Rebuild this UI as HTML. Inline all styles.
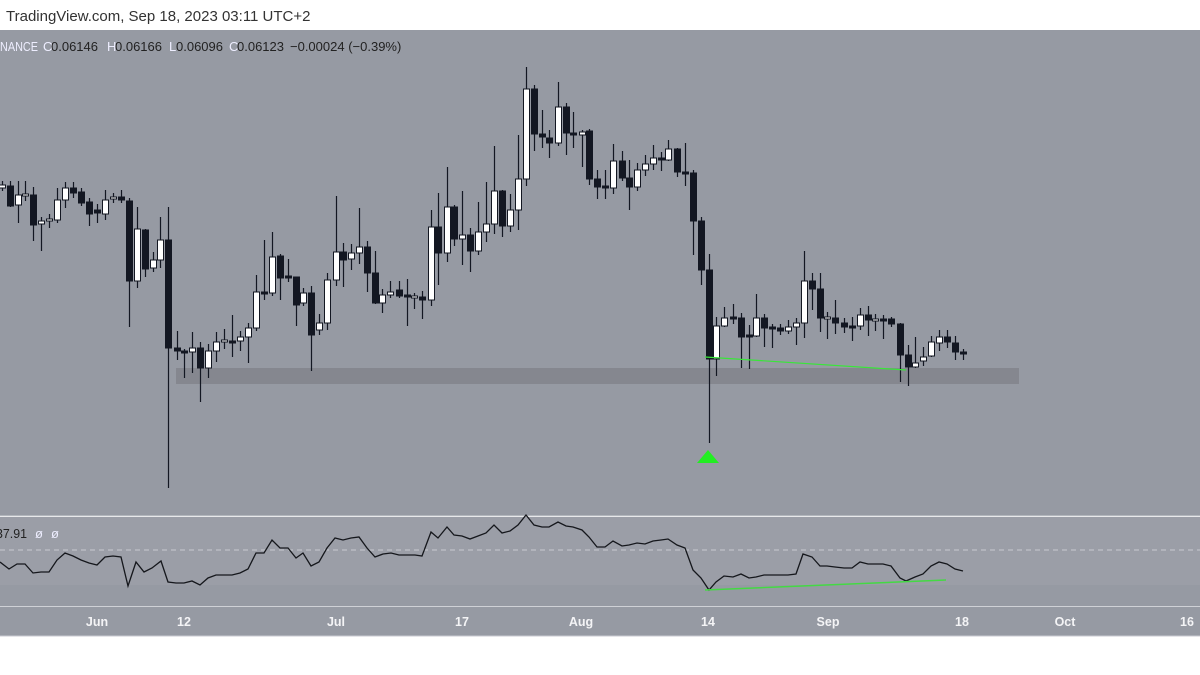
<!DOCTYPE html>
<html><head><meta charset="utf-8"><style>
html,body{margin:0;padding:0;width:1200px;height:675px;overflow:hidden;background:#fff;font-family:"Liberation Sans",sans-serif}
</style></head><body>
<svg id="s" width="1200" height="675" xmlns="http://www.w3.org/2000/svg" style="position:absolute;left:0;top:0">
<rect x="0" y="0" width="1200" height="30" fill="#fff"/>
<rect x="0" y="30" width="1200" height="486" fill="#969aa3"/>
<rect x="0" y="517" width="1200" height="68" fill="#9b9ea7"/>
<rect x="0" y="585" width="1200" height="21" fill="#969aa3"/>
<rect x="0" y="607" width="1200" height="29" fill="#969aa3"/>
<line x1="0" y1="516" x2="1200" y2="516" stroke="#cfd1d6" stroke-width="1"/>
<line x1="0" y1="606.5" x2="1200" y2="606.5" stroke="#cfd1d6" stroke-width="1"/>
<line x1="0" y1="636" x2="1200" y2="636" stroke="#c8cad0" stroke-width="1"/>
<line x1="0" y1="550" x2="1200" y2="550" stroke="#c9cbd0" stroke-width="1" stroke-dasharray="5,4"/>
<rect x="176" y="368" width="843" height="16" fill="#85878f"/>
<g id="c"></g>
<line x1="705" y1="357" x2="906" y2="370" stroke="#39e639" stroke-width="1.2"/>
<polygon points="708,450 697,463 719,463" fill="#22ee22"/>
<polyline id="rsi" fill="none" stroke="#15171c" stroke-width="1.3"/>
<line x1="705" y1="590" x2="946" y2="580" stroke="#44d944" stroke-width="1.5"/>
<text x="6" y="21" font-size="15" fill="#333">TradingView.com, Sep 18, 2023 03:11 UTC+2</text>
<g font-size="13" fill="#222">
<text x="0" y="51" fill="#eef" textLength="38" lengthAdjust="spacingAndGlyphs">NANCE</text>
<text x="43" y="51" fill="#eef">O</text><text x="51" y="51">0.06146</text>
<text x="107" y="51" fill="#eef">H</text><text x="115" y="51">0.06166</text>
<text x="169" y="51" fill="#eef">L</text><text x="176" y="51">0.06096</text>
<text x="229" y="51" fill="#eef">C</text><text x="237" y="51">0.06123</text>
<text x="290" y="51">−0.00024 (−0.39%)</text>
</g>
<g font-size="13">
<text x="-4" y="538" fill="#222" textLength="31" lengthAdjust="spacingAndGlyphs">37.91</text>
<text x="35" y="538" fill="#eef">ø</text><text x="51" y="538" fill="#eef">ø</text>
</g>
<g font-size="12.5" fill="#f4f4f6" text-anchor="middle" font-weight="bold">
<text x="97" y="626">Jun</text><text x="184" y="626">12</text><text x="336" y="626">Jul</text><text x="462" y="626">17</text><text x="581" y="626">Aug</text><text x="708" y="626">14</text><text x="828" y="626">Sep</text><text x="962" y="626">18</text><text x="1065" y="626">Oct</text><text x="1187" y="626">16</text>
</g>
</svg>
<script>
var C=[
[2,181,185,188,191,'w'],[10,181,186,206,207,'b'],[18,181,195,205,223,'w'],[25,181,194,196,201,'w'],[33,187,195,225,241,'b'],[41,217,221,224,251,'w'],[49,214,219,221,228,'w'],[57,188,200,220,223,'w'],[65,182,188,200,208,'w'],[73,182,188,193,198,'b'],[81,188,192,203,206,'b'],[89,198,202,214,226,'b'],[97,204,210,213,223,'b'],[105,190,200,214,220,'w'],[113,193,197,199,203,'w'],[121,190,197,200,203,'b'],
[129,198,201,281,327,'b'],[137,207,229,281,288,'w'],[145,229,230,269,277,'b'],[153,252,260,268,272,'w'],[160,217,240,260,268,'w'],[168,207,240,348,488,'b'],[177,331,348,351,360,'b'],[184,349,351,353,378,'b'],[192,332,348,352,373,'w'],[200,342,348,368,402,'b'],[208,344,351,368,378,'w'],[216,332,342,351,362,'w'],[224,329,340,342,349,'w'],[232,315,341,343,357,'b'],[240,331,337,341,351,'w'],[248,323,328,337,363,'w'],[256,275,292,328,331,'w'],[264,240,292,294,300,'b'],[272,232,257,293,296,'w'],[280,254,256,278,300,'b'],[288,259,276,278,282,'b'],[296,277,277,305,326,'b'],[303,288,293,303,306,'w'],[311,286,293,335,371,'b'],[319,314,323,330,335,'w'],[327,273,280,323,330,'w'],[336,196,252,280,286,'w'],[343,243,252,260,287,'b'],[351,244,253,259,270,'w'],[359,208,247,253,264,'w'],[367,241,247,273,292,'b'],[375,251,273,303,304,'b'],[382,289,295,303,313,'w'],[390,281,292,295,298,'w'],[399,281,290,296,298,'b'],[407,279,295,297,326,'b'],[414,293,296,298,309,'w'],[422,291,297,300,319,'b'],[431,210,227,300,306,'w'],[438,193,227,253,285,'b'],[447,167,207,253,262,'w'],[454,205,207,239,246,'b'],[462,191,235,239,265,'w'],[470,228,235,251,272,'b'],[478,202,232,251,255,'w'],[486,182,224,232,242,'w'],[494,146,191,224,234,'w'],[502,190,191,226,237,'b'],[510,194,210,226,232,'w'],[518,135,179,210,230,'w'],[526,67,89,179,186,'w'],[534,85,89,134,151,'b'],[542,110,134,137,148,'b'],[549,130,138,143,158,'b'],[558,82,107,143,146,'w'],[566,103,107,133,155,'b'],[573,112,133,135,148,'b'],[582,130,132,135,167,'w'],[589,129,131,179,185,'b'],[597,170,179,187,199,'b'],[605,170,186,188,199,'b'],[613,144,161,188,194,'w'],[622,151,161,178,181,'b'],[629,160,178,187,210,'b'],[637,163,170,187,191,'w'],[645,155,164,170,176,'w'],[653,145,158,164,170,'w'],[661,152,158,160,171,'b'],[668,140,149,160,161,'w'],[677,148,149,172,177,'b'],[685,143,172,174,186,'b'],
[693,170,173,221,255,'b'],[701,217,221,270,285,'b'],[709,254,270,359,443,'b'],[716,317,326,359,376,'w'],[724,307,318,326,327,'w'],[733,304,317,319,324,'b'],[741,313,318,337,368,'b'],[749,325,335,337,369,'b'],[756,294,318,336,337,'w'],[764,314,318,328,347,'b'],[772,324,327,329,348,'b'],[780,324,328,331,335,'b'],[788,320,327,331,334,'w'],[796,318,323,327,345,'w'],[804,251,281,323,338,'w'],[812,273,281,289,310,'b'],[820,273,289,318,332,'b'],[827,312,317,319,339,'w'],[835,300,318,323,334,'b'],[844,318,323,327,333,'b'],[852,317,326,328,341,'b'],[860,308,315,326,330,'w'],[868,306,315,320,336,'b'],[875,314,319,321,331,'w'],[883,315,319,321,339,'b'],[891,317,319,324,327,'b'],[900,323,324,355,382,'b'],[908,345,355,367,386,'b'],[915,337,363,367,368,'w'],[923,347,357,361,366,'w'],[931,336,342,356,357,'w'],[939,330,337,343,351,'w'],[947,330,337,342,348,'b'],[955,336,343,352,360,'b'],[963,349,352,354,360,'b']];
var h='';
C.forEach(function(d){var x=d[0],col=d[5]=='w'?'#fff':'#131722';
h+='<line x1="'+(x+0.5)+'" y1="'+d[1]+'" x2="'+(x+0.5)+'" y2="'+d[4]+'" stroke="#131722" stroke-width="1.2"/>';
var t=d[2],b=d[3];if(b-t<2)b=t+2;
h+='<rect x="'+(x-2.5)+'" y="'+t+'" width="6" height="'+(b-t)+'" fill="'+col+'" stroke="#131722" stroke-width="1"/>';});
document.getElementById('c').innerHTML=h;
var R=[[0,562],[9,569],[17,564],[25,564],[33,573],[41,572],[49,572],[57,560],[65,553],[73,556],[81,560],[89,563],[97,565],[105,557],[113,556],[121,557],[128,586],[136,562],[144,572],[152,568],[161,561],[168,582],[176,583],[184,583],[192,581],[200,585],[208,578],[216,575],[224,575],[232,575],[240,573],[248,569],[256,553],[264,553],[272,540],[280,548],[288,548],[296,558],[303,553],[311,566],[319,562],[327,548],[335,538],[343,540],[351,538],[359,537],[367,548],[375,557],[383,554],[391,553],[399,555],[407,555],[415,555],[422,556],[431,532],[438,538],[447,527],[454,535],[462,536],[470,539],[478,536],[486,533],[494,525],[502,533],[510,531],[518,525],[526,515],[534,525],[542,527],[549,527],[558,522],[566,526],[573,527],[582,530],[589,537],[597,547],[605,547],[613,541],[622,546],[629,545],[637,543],[645,544],[653,541],[661,540],[668,539],[677,545],[685,548],[693,570],[701,578],[709,590],[716,582],[724,576],[733,577],[741,574],[749,578],[756,577],[764,575],[772,575],[780,575],[788,575],[796,574],[803,554],[812,557],[820,566],[827,566],[835,567],[844,568],[852,568],[860,562],[868,564],[875,564],[883,564],[891,566],[900,578],[906,581],[915,577],[923,574],[931,566],[939,562],[947,564],[955,569],[963,571]];
document.getElementById('rsi').setAttribute('points',R.map(function(p){return p.join(',')}).join(' '));
</script>
</body></html>
